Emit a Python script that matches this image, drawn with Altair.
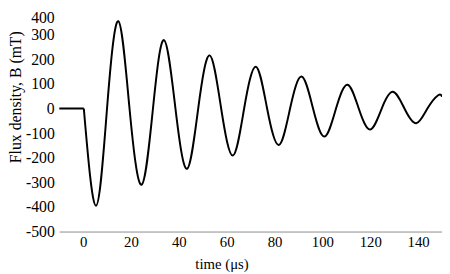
import altair as alt
import pandas as pd

# Flat pre-trigger segment
flat_t = [-10, 0.3]
flat_b = [0, 0]

# Oscillation: extremes and zero crossings
osc_t = [0.3, 5.4, 10.0, 14.7, 19.4, 24.4, 29.2, 33.8, 38.6, 43.4, 48.1, 52.9,
         57.7, 62.6, 67.3, 72.2, 76.9, 81.8, 86.5, 91.3, 96.1, 100.9, 105.7,
         110.5, 115.2, 120.0, 124.8, 129.5, 134.3, 139.2, 143.9, 148.4, 150.0]
osc_b = [0, -395, 0, 355, 0, -310, 0, 278, 0, -245, 0, 216,
         0, -191, 0, 170, 0, -148, 0, 130, 0, -114, 0,
         97, 0, -85, 0, 68, 0, -60, 0, 54, 48]

x_ticks = [0, 20, 40, 60, 80, 100, 120, 140]
y_ticks = [-500, -400, -300, -200, -100, 0, 100, 200, 300, 400]

df = pd.DataFrame({
    "t": flat_t + osc_t,
    "B": flat_b + osc_b,
    "seg": ["flat"] * len(flat_t) + ["osc"] * len(osc_t),
})

FONT = "Liberation Serif"

x_enc = alt.X(
    "t:Q",
    scale=alt.Scale(domain=[-10, 150], nice=False, zero=False),
    axis=alt.Axis(
        values=x_ticks, title="time (μs)", grid=False, ticks=False, tickSize=0,
        domainColor="#8c8c8c", domainWidth=1,
        labelExpr="datum.value + ''",
        labelFont=FONT, labelFontSize=15, labelColor="#000000", labelPadding=3,
        titleFont=FONT, titleFontSize=15, titleFontWeight="normal", titleColor="#000000",
        titleX=165, titleY=26,
    ),
)
y_enc = alt.Y(
    "B:Q",
    scale=alt.Scale(domain=[-500, 400], nice=False),
    axis=alt.Axis(
        values=y_ticks, title="Flux density, B (mT)", grid=False, ticks=False, tickSize=0,
        domain=False,
        labelExpr="datum.value + ''",
        labelFont=FONT, labelFontSize=16, labelColor="#000000", labelPadding=5,
        labelBaseline={"condition": {"test": "datum.value == 400", "value": "top"}, "value": "middle"},
        titleFont=FONT, titleFontSize=16, titleFontWeight="normal", titleColor="#000000",
        titleX=-36, titleY=88,
    ),
)

base = alt.Chart(df).encode(x=x_enc, y=y_enc)

flat = base.transform_filter(alt.datum.seg == "flat").mark_line(
    color="#000000", strokeWidth=2, interpolate="linear", clip=True)
osc = base.transform_filter(alt.datum.seg == "osc").mark_line(
    color="#000000", strokeWidth=2, interpolate="natural", clip=True)

chart = alt.layer(flat, osc).properties(
    width=389, height=225,
    autosize="none",
    padding={"left": 52, "top": 0, "right": 0, "bottom": 41},
    background="#ffffff",
).configure(
    font=FONT,
    axis=alt.AxisConfig(labelFont=FONT, titleFont=FONT),
    view=alt.ViewConfig(stroke=None),
)

chart.save("out.html", embed_options={"renderer": "svg", "actions": False})
